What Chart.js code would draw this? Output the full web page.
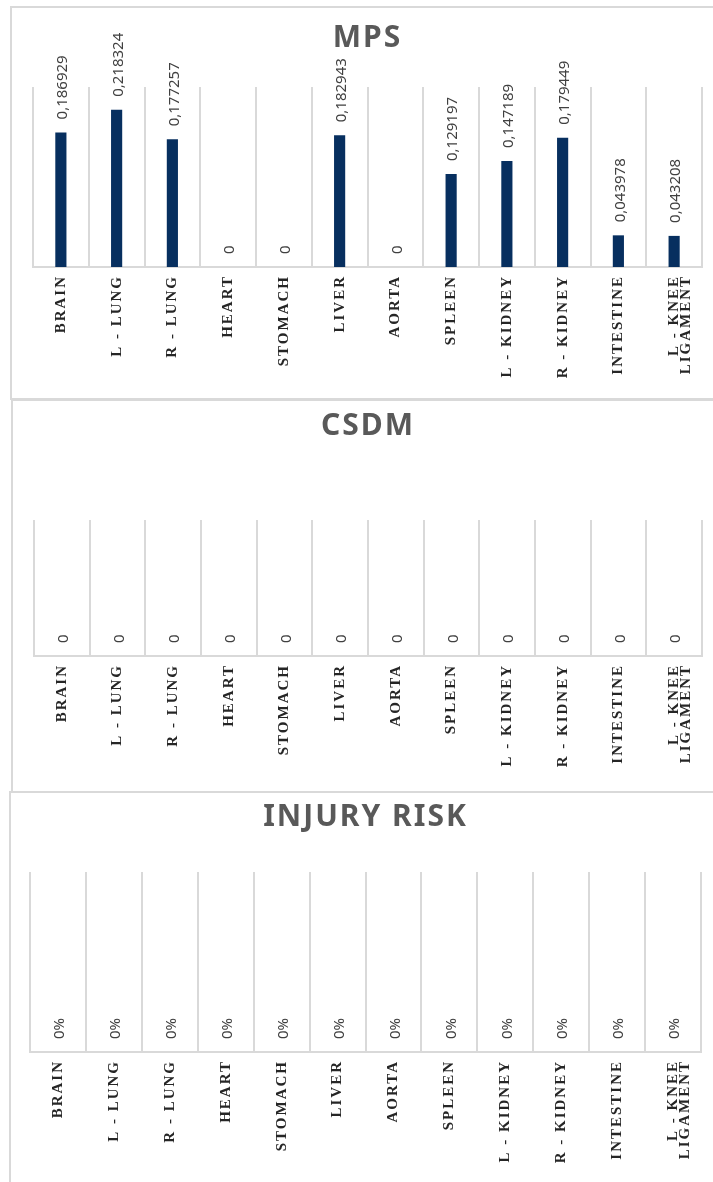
<!DOCTYPE html>
<html>
<head>
<meta charset="utf-8">
<script src="https://cdn.jsdelivr.net/npm/chart.js@4/dist/chart.umd.min.js"></script>
<style>
  body { margin: 0; background: #fff; width: 713px; height: 1182px; overflow: hidden; position: relative; }
  .panel { position: absolute; border: 2px solid #d9d9d9; box-sizing: border-box; background: #fff; }
  .panel canvas { position: absolute; left: 0; top: 0; }
</style>
</head>
<body>
<div class="panel" style="left:10px; top:6px; width:740px; height:394px;"><canvas id="mps" width="701" height="390"></canvas></div>
<div class="panel" style="left:11px; top:399px; width:740px; height:394px;"><canvas id="csdm" width="700" height="390"></canvas></div>
<div class="panel" style="left:9px; top:791px; width:740px; height:420px;"><canvas id="risk" width="702" height="389"></canvas></div>
<script>
const organs = ['BRAIN', 'L - LUNG', 'R - LUNG', 'HEART', 'STOMACH', 'LIVER', 'AORTA',
  'SPLEEN', 'L - KIDNEY', 'R - KIDNEY', 'INTESTINE', ['L - KNEE', 'LIGAMENT']];

const mpsValues = [0.186929, 0.218324, 0.177257, 0, 0, 0.182943, 0, 0.129197, 0.147189, 0.179449, 0.043978, 0.043208];
const csdmValues = [0, 0, 0, 0, 0, 0, 0, 0, 0, 0, 0, 0];
const injuryRisk = [0, 0, 0, 0, 0, 0, 0, 0, 0, 0, 0, 0];

const gridColor = '#d9d9d9';
const barColor = '#072f5f';

// spaced caps for titles and category names, plain spacing for the values
const letterSpacing = {
  id: 'letterSpacing',
  beforeDraw(chart) { chart.ctx.letterSpacing = '2px'; },
  beforeDatasetsDraw(chart) { chart.ctx.letterSpacing = '0px'; }
};

function valueLabels(format) {
  return {
    id: 'valueLabels',
    afterDatasetsDraw(chart) {
      const ctx = chart.ctx;
      const values = chart.data.datasets[0].data;
      ctx.save();
      ctx.letterSpacing = '0px';
      ctx.font = '15px "Noto Sans"';
      ctx.fillStyle = '#404040';
      ctx.textAlign = 'left';
      ctx.textBaseline = 'middle';
      chart.getDatasetMeta(0).data.forEach((bar, i) => {
        ctx.save();
        ctx.translate(bar.x + 2, bar.y - 13);
        ctx.rotate(-Math.PI / 2);
        ctx.fillText(format(values[i]), 0, 0);
        ctx.restore();
      });
      ctx.restore();
    }
  };
}

function organChart(id, title, values, yMax, format, box) {
  return new Chart(document.getElementById(id), {
    type: 'bar',
    data: {
      labels: organs,
      datasets: [{
        data: values,
        backgroundColor: barColor,
        categoryPercentage: 1,
        barPercentage: 0.2
      }]
    },
    options: {
      responsive: false,
      animation: false,
      layout: { padding: { left: box.left, right: box.right, top: 0, bottom: 0 } },
      plugins: {
        legend: { display: false },
        tooltip: { enabled: false },
        title: {
          display: true,
          text: title,
          color: '#595959',
          font: { family: 'Noto Sans', size: 30, weight: 'bold', lineHeight: 1.2 },
          padding: { top: box.titleTop, bottom: box.titleBottom }
        }
      },
      scales: {
        x: {
          afterFit(scale) { scale.height = box.axis; },
          grid: { color: gridColor, lineWidth: 2, drawTicks: false, offset: true },
          border: { color: gridColor, width: 2 },
          ticks: {
            autoSkip: false,
            maxRotation: 90,
            minRotation: 90,
            padding: 8,
            color: '#262626',
            font: { family: 'Liberation Serif', size: 15, weight: 'bold', lineHeight: 0.8 }
          }
        },
        y: { display: false, min: 0, max: yMax }
      }
    },
    plugins: [letterSpacing, valueLabels(format)]
  });
}

const decimal = v => String(v).replace('.', ',');
const percent = v => Math.round(v * 100) + '%';

organChart('mps', 'MPS', mpsValues, 0.25, decimal,
  { left: 21, right: 11, titleTop: 12, titleBottom: 31, axis: 131 });
organChart('csdm', 'CSDM', csdmValues, 1, decimal,
  { left: 21, right: 11, titleTop: 7, titleBottom: 76, axis: 135 });
organChart('risk', 'INJURY RISK', injuryRisk, 1, percent,
  { left: 19, right: 12, titleTop: 6, titleBottom: 37, axis: 130 });
</script>
</body>
</html>
